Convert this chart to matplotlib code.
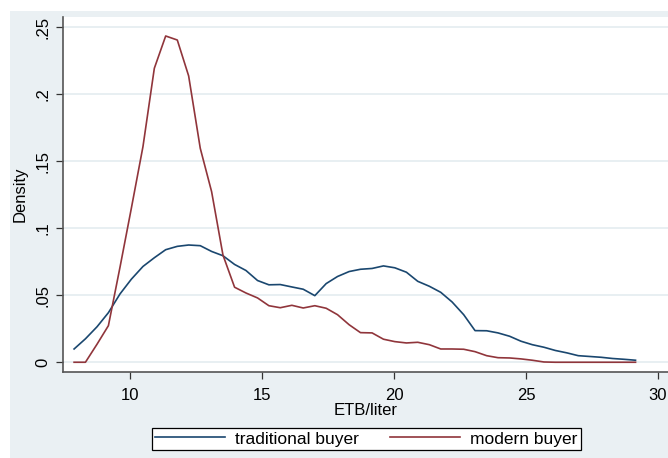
import matplotlib
matplotlib.use("Agg")
import matplotlib.pyplot as plt
from matplotlib.patches import Rectangle

plt.rcParams["font.family"] = ["Liberation Sans", "DejaVu Sans"]

# kernel density estimates, evaluated on a shared price grid (ETB/liter)
price = [7.88, 8.31, 8.75, 9.18, 9.62, 10.05, 10.49, 10.92, 11.35, 11.79,
         12.22, 12.66, 13.09, 13.52, 13.96, 14.39, 14.83, 15.26, 15.69, 16.13,
         16.56, 17.00, 17.43, 17.86, 18.30, 18.73, 19.17, 19.60, 20.03, 20.47,
         20.90, 21.34, 21.77, 22.20, 22.64, 23.07, 23.51, 23.94, 24.38, 24.81,
         25.24, 25.68, 26.11, 26.55, 26.98, 27.42, 27.85, 28.28, 28.72, 29.15]

traditional = [0.0099, 0.0175, 0.0265, 0.0370, 0.0510, 0.0620, 0.0715, 0.0780, 0.0840, 0.0865,
               0.0875, 0.0870, 0.0827, 0.0795, 0.0730, 0.0685, 0.0610, 0.0578, 0.0580, 0.0562,
               0.0545, 0.0497, 0.0587, 0.0640, 0.0677, 0.0694, 0.0700, 0.0719, 0.0705, 0.0672,
               0.0604, 0.0567, 0.0522, 0.0450, 0.0355, 0.0236, 0.0235, 0.0219, 0.0194, 0.0157,
               0.0131, 0.0112, 0.0088, 0.0070, 0.0049, 0.0043, 0.0037, 0.0028, 0.0022, 0.0015]

modern = [0.0, 0.0, 0.0135, 0.0273, 0.0710, 0.1150, 0.1610, 0.2194, 0.2435, 0.2405,
          0.2137, 0.1597, 0.1273, 0.0800, 0.0560, 0.0517, 0.0480, 0.0422, 0.0407, 0.0425,
          0.0405, 0.0422, 0.0403, 0.0355, 0.0280, 0.0221, 0.0219, 0.0172, 0.0154, 0.0144,
          0.0149, 0.0131, 0.0099, 0.0099, 0.0097, 0.0079, 0.0049, 0.0034, 0.0032, 0.0025,
          0.0015, 0.0002, 0.0, 0.0, 0.0, 0.0, 0.0, 0.0, 0.0, 0.0]

x_ticks = [10, 15, 20, 25, 30]
y_ticks = [0, 0.05, 0.1, 0.15, 0.2, 0.25]
y_tick_labels = ["0", ".05", ".1", ".15", ".2", ".25"]

BG = "#eaf0f3"
NAVY = "#1a476f"
MAROON = "#90353b"

W, H = 668, 458
fig = plt.figure(figsize=(W / 100, H / 100), dpi=100, facecolor="white")

# graph region background, kept behind the plot region
fig.patches.append(Rectangle((10 / W, 0), 1, 1 - 11 / H, transform=fig.transFigure,
                             facecolor=BG, edgecolor="none", zorder=-10))

ax = fig.add_axes([63 / W, 1 - 372.3 / H, 1 - 63 / W, (372.3 - 16.7) / H])
ax.set_facecolor("white")

ax.plot(price, traditional, color=NAVY, linewidth=1.2, label="traditional buyer")
ax.plot(price, modern, color=MAROON, linewidth=1.2, label="modern buyer")

ax.set_xlim(7.46, 30.38)
ax.set_ylim(-0.0075, 0.2579)

ax.set_xticks(x_ticks)
ax.set_yticks(y_ticks)
ax.set_yticklabels(y_tick_labels, rotation=90, va="center")
ax.tick_params(axis="both", labelsize=12, length=5, width=0.9, color="#333333", pad=4)
ax.tick_params(axis="x", pad=6)

ax.grid(axis="y", color="#e4ecf0", linewidth=1.2)
ax.set_axisbelow(True)

for side in ["top", "right"]:
    ax.spines[side].set_visible(False)
for side in ["left", "bottom"]:
    ax.spines[side].set_color("#555555")
    ax.spines[side].set_linewidth(1.2)

ax.set_xlabel("ETB/liter", fontsize=12, labelpad=0)
ax.set_ylabel("Density", fontsize=12, labelpad=6)

leg = fig.legend(loc="center", bbox_to_anchor=(366.5 / W, 1 - 439 / H), ncol=2,
                 fontsize=12.5, handlelength=4.0, columnspacing=1.8, handletextpad=0.6,
                 frameon=True, fancybox=False, borderpad=0.2, framealpha=1)
leg.get_frame().set_edgecolor("black")
leg.get_frame().set_linewidth(0.9)
leg.get_frame().set_facecolor("white")

fig.savefig("out.png", dpi=100, facecolor="white")
